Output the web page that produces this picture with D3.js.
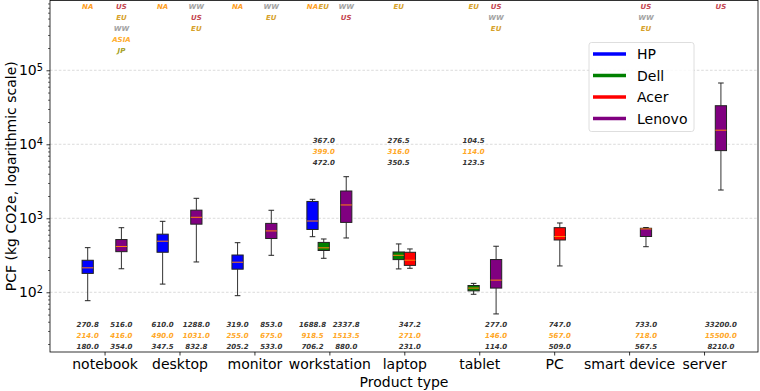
<!DOCTYPE html>
<html>
<head>
<meta charset="utf-8">
<style>
  body { margin: 0; background: #fff; }
  svg { display: block; font-family: "DejaVu Sans", sans-serif; }
  .stat { font-size: 7px; font-weight: bold; font-style: italic; }
</style>
<script src="https://cdn.jsdelivr.net/npm/d3@7"></script>
</head>
<body>
<svg id="chart" width="760" height="391"></svg>
<script>
var categories = ["notebook", "desktop", "monitor", "workstation", "laptop", "tablet", "PC", "smart device", "server"];
var brands = ["HP", "Dell", "Acer", "Lenovo"];
var brandColors = ["#0000ff", "#008000", "#ff0000", "#800080"];

// one entry per box
var boxCategory = [0, 0, 1, 1, 2, 2, 3, 3, 3, 4, 4, 5, 5, 6, 7, 8];
var boxBrand    = [0, 3, 0, 3, 0, 3, 0, 1, 3, 1, 2, 1, 3, 2, 3, 3];
var whiskerLow  = [77, 208, 129, 257, 90, 316, 564, 288, 542, 207, 211, 94, 51, 227, 413, 2410];
var q1          = [180, 354, 347.5, 832.8, 205.2, 533, 706.2, 367, 880, 276.5, 231, 104.5, 114, 509, 567.5, 8210];
var median      = [214, 416, 490, 1031, 255, 675, 918.5, 399, 1513.5, 316, 271, 114, 146, 567, 718, 15500];
var q3          = [270.8, 516, 610, 1288, 319, 853, 1688.8, 472, 2337.8, 350.5, 347.2, 123.5, 277, 747, 733, 33200];
var whiskerHigh = [401, 746, 910, 1862, 468, 1283, 1806, 525, 3648, 450, 385, 132, 419, 864, 750, 67300];
var regions = [["NA"], ["US", "EU", "WW", "ASIA", "JP"], ["NA"], ["WW", "US", "EU"], ["NA"], ["WW", "EU"],
               ["NA"], ["EU"], ["WW", "US"], ["EU"], [], ["EU"], ["US", "WW", "EU"], [], ["US", "WW", "EU"], ["US"]];

var regionNames  = ["NA", "US", "EU", "WW", "ASIA", "JP"];
var regionColors = ["#ffa01e", "#c4454f", "#d6a12a", "#a3a3a3", "#ffad2e", "#a5a01c"];

var yTicks = [1e2, 1e3, 1e4, 1e5];

var plotLeft = 50, plotRight = 758, plotTop = 0.5, plotBottom = 352;
var svg = d3.select("#chart");

var x = d3.scaleLinear().domain([-0.728, 8.72]).range([plotLeft, plotRight]);
var y = d3.scaleLog().domain([15.6, 877000]).range([plotBottom, plotTop]);
var step = 0.15, boxW = x(step) - x(0);

function boxX(i) { return x(boxCategory[i] + (boxBrand[i] - 1.5) * step); }

// grid
svg.append("g").selectAll("line").data(yTicks).enter().append("line")
  .attr("x1", plotLeft).attr("x2", plotRight)
  .attr("y1", d => y(d)).attr("y2", d => y(d))
  .attr("stroke", "#d3d3d3").attr("stroke-width", 0.8).attr("stroke-dasharray", "2.6,1.8");

// y axis minor ticks
var minor = [];
[10, 100, 1000, 10000, 100000].forEach(function(p) {
  for (var k = 2; k < 10; k++) if (p * k > 15.6 && p * k < 877000) minor.push(p * k);
});
svg.append("g").attr("transform", "translate(" + plotLeft + ",0)")
  .call(d3.axisLeft(y).tickValues(minor).tickSize(2).tickFormat(""))
  .call(g => g.select(".domain").remove())
  .selectAll("line").attr("stroke", "#000").attr("stroke-width", 0.6);

var yAxis = svg.append("g").attr("transform", "translate(" + plotLeft + ",0)")
  .call(d3.axisLeft(y).tickValues(yTicks).tickSize(3.5).tickPadding(3.5).tickFormat(""));
yAxis.select(".domain").remove();
yAxis.selectAll("line").attr("stroke", "#000").attr("stroke-width", 0.8);
yAxis.selectAll(".tick text").each(function(d) {
  var t = d3.select(this).attr("font-size", 14).attr("fill", "#000").attr("font-family", "DejaVu Sans");
  t.append("tspan").text("10");
  t.append("tspan").attr("font-size", 9.8).attr("dy", "-0.45em").text(Math.round(Math.log10(d)));
});

// x axis
var xAxis = svg.append("g").attr("transform", "translate(0," + plotBottom + ")")
  .call(d3.axisBottom(x).tickValues(d3.range(categories.length)).tickSize(3.5).tickPadding(3.5)
    .tickFormat(i => categories[i]));
xAxis.select(".domain").remove();
xAxis.selectAll("line").attr("stroke", "#000").attr("stroke-width", 0.8);
xAxis.selectAll("text").attr("font-size", 14).attr("fill", "#000").attr("font-family", "DejaVu Sans");

// boxes
var idx = d3.range(q1.length);
var boxes = svg.append("g").selectAll("g").data(idx).enter().append("g");
boxes.append("line")
  .attr("x1", boxX).attr("x2", boxX)
  .attr("y1", i => y(whiskerLow[i])).attr("y2", i => y(q1[i]))
  .attr("stroke", "#333").attr("stroke-width", 1);
boxes.append("line")
  .attr("x1", boxX).attr("x2", boxX)
  .attr("y1", i => y(q3[i])).attr("y2", i => y(whiskerHigh[i]))
  .attr("stroke", "#333").attr("stroke-width", 1);
[whiskerLow, whiskerHigh].forEach(function(arr) {
  boxes.append("line")
    .attr("x1", i => boxX(i) - boxW / 4).attr("x2", i => boxX(i) + boxW / 4)
    .attr("y1", i => y(arr[i])).attr("y2", i => y(arr[i]))
    .attr("stroke", "#222").attr("stroke-width", 1);
});
boxes.append("rect")
  .attr("x", i => boxX(i) - boxW / 2).attr("width", boxW)
  .attr("y", i => y(q3[i])).attr("height", i => y(q1[i]) - y(q3[i]))
  .attr("fill", i => brandColors[boxBrand[i]]).attr("stroke", "#222").attr("stroke-width", 1);
boxes.append("line")
  .attr("x1", i => boxX(i) - boxW / 2).attr("x2", i => boxX(i) + boxW / 2)
  .attr("y1", i => y(median[i])).attr("y2", i => y(median[i]))
  .attr("stroke", "#ff7f0e").attr("stroke-width", 1);

// quartile / median labels
var statColors = ["#333", "#ffa726", "#333"];
idx.forEach(function(i) {
  var dell = boxBrand[i] === 1;
  var vals = dell ? [q1[i], median[i], q3[i]] : [q3[i], median[i], q1[i]];
  var y0 = dell ? y(1e4) - 3.3 : plotBottom - 27;
  vals.forEach(function(v, k) {
    svg.append("text").attr("class", "stat")
      .attr("x", boxX(i)).attr("y", y0 + k * 10.7).attr("dy", "0.35em")
      .attr("text-anchor", "middle").attr("fill", statColors[k])
      .text(v.toFixed(1));
  });
  regions[i].forEach(function(r, k) {
    svg.append("text").attr("class", "stat")
      .attr("x", boxX(i)).attr("y", 6.8 + k * 11).attr("dy", "0.35em")
      .attr("text-anchor", "middle").attr("fill", regionColors[regionNames.indexOf(r)])
      .text(r);
  });
});

// frame
svg.append("rect").attr("x", plotLeft).attr("y", plotTop)
  .attr("width", plotRight - plotLeft).attr("height", plotBottom - plotTop)
  .attr("fill", "none").attr("stroke", "#000").attr("stroke-width", 0.8);

// titles
svg.append("text").attr("x", (plotLeft + plotRight) / 2).attr("y", 387).attr("text-anchor", "middle")
  .attr("font-size", 14).text("Product type");
svg.append("text").attr("transform", "translate(16," + (plotBottom + plotTop) / 2 + ") rotate(-90)")
  .attr("text-anchor", "middle").attr("font-size", 14).text("PCF (kg CO2e, logarithmic scale)");

// legend
var lg = svg.append("g").attr("transform", "translate(589,42.5)");
lg.append("rect").attr("width", 105).attr("height", 89).attr("rx", 2.5)
  .attr("fill", "#fff").attr("fill-opacity", 0.8).attr("stroke", "#d6d6d6").attr("stroke-width", 0.8);
brands.forEach(function(b, k) {
  var yy = 11.5 + k * 21.5;
  lg.append("line").attr("x1", 4).attr("x2", 37).attr("y1", yy).attr("y2", yy)
    .attr("stroke", brandColors[k]).attr("stroke-width", 3.5);
  lg.append("text").attr("x", 48).attr("y", yy).attr("dy", "0.36em").attr("font-size", 14).text(b);
});
</script>
</body>
</html>
